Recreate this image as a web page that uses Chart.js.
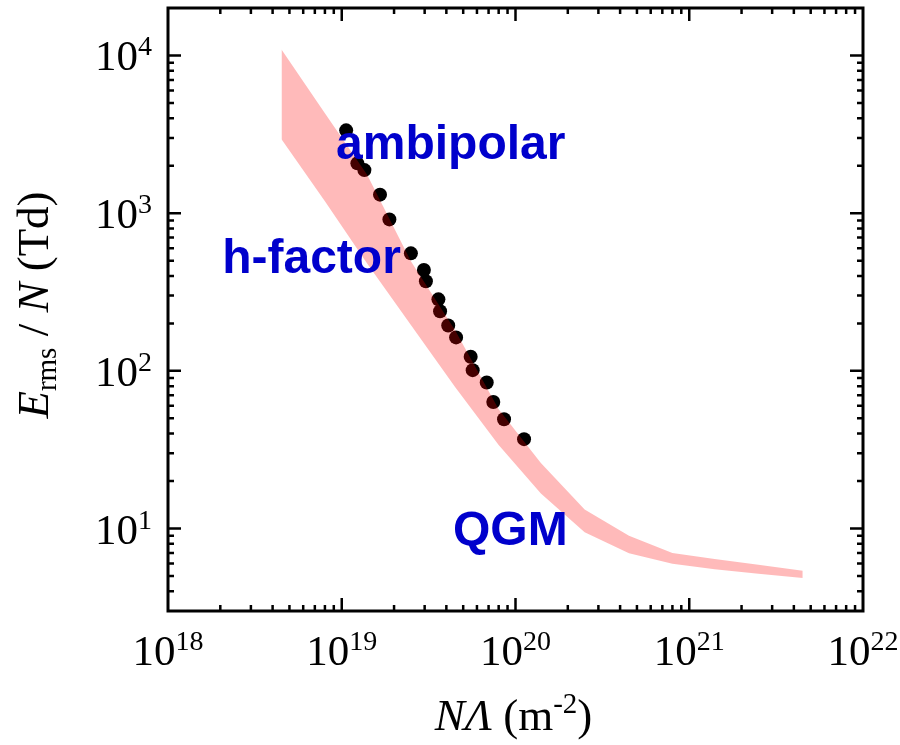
<!DOCTYPE html>
<html>
<head>
<meta charset="utf-8">
<title>E_rms/N versus NΛ</title>
<script src="https://cdn.jsdelivr.net/npm/chart.js@4/dist/chart.umd.min.js"></script>
<style>
  html, body { margin: 0; padding: 0; background: #fff; }
  #wrap { width: 900px; height: 745px; }
</style>
</head>
<body>
<div id="wrap"><canvas id="c" width="900" height="745"></canvas></div>
<script>
// Measured points: NΛ (m^-2) and E_rms/N (Td)
const dotNL = [1.06e19, 1.23e19, 1.35e19, 1.66e19, 1.88e19, 2.50e19, 2.97e19, 3.05e19, 3.60e19,
               3.68e19, 4.10e19, 4.55e19, 5.52e19, 5.67e19, 6.83e19, 7.45e19, 8.59e19, 1.12e20];
const dotE  = [3350, 2070, 1876, 1310, 913, 556, 436, 370, 284,
               239, 194, 163, 123, 101, 84.3, 63.5, 49.3, 36.9];

// Model band: upper and lower bounds
const bandNL    = [4.5e18, 8e18, 1.4e19, 2.5e19, 4.5e19, 8e19, 1.4e20, 2.5e20, 4.5e20, 8e20, 1.4e21, 2.5e21, 4.5e21];
const bandUpper = [10900, 4300, 1750, 495, 180, 57, 26, 13.2, 9.0, 7.0, 6.42, 5.89, 5.40];
const bandLower = [2940, 1190, 479, 195, 78.7, 33.9, 16.7, 9.49, 6.98, 5.97, 5.51, 5.17, 4.85];

// Axis ranges and labelled decades
const xRange = [1e18, 1e22];
const yRange = [3, 2e4];
const xTickExps = [18, 19, 20, 21, 22];
const yTickExps = [1, 2, 3, 4];

// Region labels (anchored at data coordinates, left/baseline)
const regionLabels = [
  { text: 'ambipolar', x: 9.27e18, y: 2193 },
  { text: 'h-factor',  x: 2.05e18, y: 415 },
  { text: 'QGM',       x: 4.37e19, y: 7.85 }
];

const SERIF = '"Liberation Serif", "Times New Roman", serif';
const SANS = '"Liberation Sans", Arial, sans-serif';
const BIG = 43, SMALL = 28, TITLE = 45, TITLE_SMALL = 29;

const toXY = (xs, ys) => xs.map((v, i) => ({ x: v, y: ys[i] }));

// Draws a run of text pieces (each with its own font and vertical shift)
function drawRuns(ctx, runs, x, y, align) {
  let total = 0;
  const widths = runs.map(r => { ctx.font = r.font; const w = ctx.measureText(r.text).width; total += w; return w; });
  let cx = align === 'center' ? x - total / 2 : align === 'right' ? x - total : x;
  ctx.textAlign = 'left';
  ctx.textBaseline = 'alphabetic';
  runs.forEach((r, i) => {
    ctx.font = r.font;
    ctx.fillText(r.text, cx, y + (r.dy || 0));
    cx += widths[i];
  });
}

const axesPlugin = {
  id: 'boxedAxes',
  afterDraw(chart) {
    const { ctx, chartArea: a, scales: { x, y } } = chart;
    ctx.save();
    ctx.strokeStyle = '#000';
    ctx.fillStyle = '#000';
    ctx.lineCap = 'butt';

    // inward ticks on all four sides
    ctx.lineWidth = 2.5;
    ctx.beginPath();
    for (let e = 18; e < 22; e++) {
      for (let m = 1; m <= 9; m++) {
        const v = m * Math.pow(10, e);
        if (v <= xRange[0] || v >= xRange[1]) continue;
        const px = x.getPixelForValue(v);
        const len = m === 1 ? 13 : 6;
        ctx.moveTo(px, a.bottom); ctx.lineTo(px, a.bottom - len);
        ctx.moveTo(px, a.top); ctx.lineTo(px, a.top + len);
      }
    }
    for (let e = 0; e < 5; e++) {
      for (let m = 1; m <= 9; m++) {
        const v = m * Math.pow(10, e);
        if (v <= yRange[0] || v >= yRange[1]) continue;
        const py = y.getPixelForValue(v);
        const len = m === 1 ? 13 : 6;
        ctx.moveTo(a.left, py); ctx.lineTo(a.left + len, py);
        ctx.moveTo(a.right, py); ctx.lineTo(a.right - len, py);
      }
    }
    ctx.stroke();

    // frame
    ctx.lineWidth = 3;
    ctx.strokeRect(a.left, a.top, a.right - a.left, a.bottom - a.top);

    // tick labels 10^n
    xTickExps.forEach(e => {
      const px = x.getPixelForValue(Math.pow(10, e));
      drawRuns(ctx, [
        { text: '10', font: `${BIG}px ${SERIF}` },
        { text: String(e), font: `${SMALL}px ${SERIF}`, dy: -15 }
      ], px, a.bottom + 54, 'center');
    });
    yTickExps.forEach(e => {
      const py = y.getPixelForValue(Math.pow(10, e));
      drawRuns(ctx, [
        { text: '10', font: `${BIG}px ${SERIF}` },
        { text: String(e), font: `${SMALL}px ${SERIF}`, dy: -15 }
      ], a.left - 16, py + 15, 'right');
    });

    // x title
    drawRuns(ctx, [
      { text: 'NΛ', font: `italic ${TITLE}px ${SERIF}` },
      { text: ' (m', font: `${TITLE}px ${SERIF}` },
      { text: '-2', font: `${TITLE_SMALL}px ${SERIF}`, dy: -17 },
      { text: ')', font: `${TITLE}px ${SERIF}` }
    ], (a.left + a.right) / 2 - 2, 730, 'center');

    // y title, rotated
    ctx.save();
    ctx.translate(48, 305);
    ctx.rotate(-Math.PI / 2);
    drawRuns(ctx, [
      { text: 'E', font: `italic ${TITLE}px ${SERIF}` },
      { text: 'rms', font: `${TITLE_SMALL}px ${SERIF}`, dy: 8 },
      { text: ' / ', font: `${TITLE}px ${SERIF}` },
      { text: 'N', font: `italic ${TITLE}px ${SERIF}` },
      { text: ' (Td)', font: `${TITLE}px ${SERIF}` }
    ], 0, 0, 'center');
    ctx.restore();

    // region labels
    ctx.fillStyle = '#0000CC';
    regionLabels.forEach(l => {
      drawRuns(ctx, [{ text: l.text, font: `bold 48px ${SANS}` }],
        x.getPixelForValue(l.x), y.getPixelForValue(l.y), 'left');
    });
    ctx.restore();
  }
};

new Chart(document.getElementById('c'), {
  type: 'line',
  data: {
    datasets: [
      {
        label: 'upper',
        data: toXY(bandNL, bandUpper),
        borderWidth: 0,
        borderColor: 'rgba(0,0,0,0)',
        pointRadius: 0,
        tension: 0,
        fill: '+1',
        backgroundColor: 'rgba(255,0,0,0.27)'
      },
      {
        label: 'lower',
        data: toXY(bandNL, bandLower),
        borderWidth: 0,
        borderColor: 'rgba(0,0,0,0)',
        pointRadius: 0,
        tension: 0,
        fill: false
      },
      {
        type: 'scatter',
        label: 'data',
        data: toXY(dotNL, dotE),
        showLine: false,
        pointRadius: 7,
        pointBorderWidth: 0,
        pointBackgroundColor: '#000',
        pointBorderColor: '#000'
      }
    ]
  },
  options: {
    responsive: false,
    devicePixelRatio: 1,
    animation: false,
    layout: { padding: { left: 0, right: 37, top: 8, bottom: 0 } },
    plugins: { legend: { display: false }, tooltip: { enabled: false } },
    scales: {
      x: {
        type: 'logarithmic', min: xRange[0], max: xRange[1],
        ticks: { display: false }, grid: { display: false }, border: { display: false },
        afterFit(s) { s.height = 134; }
      },
      y: {
        type: 'logarithmic', min: yRange[0], max: yRange[1],
        ticks: { display: false }, grid: { display: false }, border: { display: false },
        afterFit(s) { s.width = 168; }
      }
    }
  },
  plugins: [axesPlugin]
});
</script>
</body>
</html>
